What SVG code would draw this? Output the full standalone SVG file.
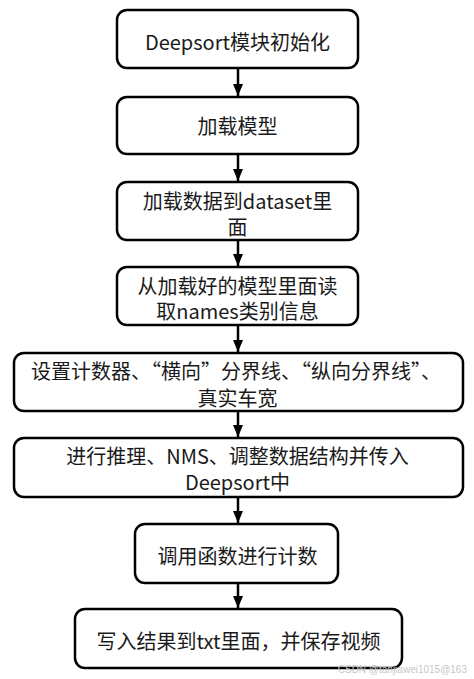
<svg xmlns="http://www.w3.org/2000/svg" width="474" height="679" viewBox="0 0 474 679">
<style>
.box{fill:#fff;stroke:#000;stroke-width:2.5}
.t{font-family:"Noto Sans CJK SC","Noto Sans",sans-serif;font-size:20px;fill:#1a1a1a;text-anchor:middle;dominant-baseline:central}
.c{stroke:#000;stroke-width:2.5;fill:none}
.wm{font-family:"Liberation Sans","Noto Sans CJK SC",sans-serif;font-size:10px;fill:#c8c8c8;text-anchor:end}
</style>
<defs>
<marker id="ah" markerWidth="12" markerHeight="10" refX="12" refY="5" orient="auto" markerUnits="userSpaceOnUse">
<path d="M0,0 L12,5 L0,10 Z" fill="#000"/>
</marker>
</defs>
<rect width="474" height="679" fill="#fff"/>
<g id="connectors">
<line class="c" x1="238" y1="68" x2="238" y2="96" marker-end="url(#ah)"/>
<line class="c" x1="238" y1="154" x2="238" y2="181" marker-end="url(#ah)"/>
<line class="c" x1="238" y1="240" x2="238" y2="266" marker-end="url(#ah)"/>
<line class="c" x1="238" y1="325" x2="238" y2="352" marker-end="url(#ah)"/>
<line class="c" x1="238" y1="411" x2="238" y2="437" marker-end="url(#ah)"/>
<line class="c" x1="238" y1="497" x2="238" y2="523" marker-end="url(#ah)"/>
<line class="c" x1="238" y1="583" x2="238" y2="608" marker-end="url(#ah)"/>
</g>
<g id="n1">
<rect class="box" x="117" y="10" width="241" height="58" rx="10"/>
<text class="t" x="237.5" y="41">Deepsort模块初始化</text>
</g>
<g id="n2">
<rect class="box" x="117" y="97" width="241" height="57" rx="10"/>
<text class="t" x="237.5" y="125">加载模型</text>
</g>
<g id="n3">
<rect class="box" x="117" y="182" width="241" height="58" rx="10"/>
<text class="t" x="237.5" y="200">加载数据到dataset里</text>
<text class="t" x="237.5" y="226">面</text>
</g>
<g id="n4">
<rect class="box" x="117" y="267" width="241" height="58" rx="10"/>
<text class="t" x="237.5" y="285">从加载好的模型里面读</text>
<text class="t" x="237.5" y="310">取names类别信息</text>
</g>
<g id="n5">
<rect class="box" x="14" y="353" width="449" height="58" rx="10"/>
<text class="t" x="236" y="370">设置计数器、“横向”分界线、“纵向分界线”、</text>
<text class="t" x="237.5" y="397">真实车宽</text>
</g>
<g id="n6">
<rect class="box" x="14" y="438" width="449" height="59" rx="10"/>
<text class="t" x="237.5" y="455">进行推理、NMS、调整数据结构并传入</text>
<text class="t" x="237.5" y="481">Deepsort中</text>
</g>
<g id="n7">
<rect class="box" x="135" y="524" width="203" height="59" rx="10"/>
<text class="t" x="237.5" y="555">调用函数进行计数</text>
</g>
<g id="n8">
<rect class="box" x="75" y="609" width="327" height="59" rx="10"/>
<text class="t" x="238.5" y="640">写入结果到txt里面，并保存视频</text>
</g>
<text class="wm" x="467" y="673">CSDN @tanjiawei1015@163</text>
</svg>
